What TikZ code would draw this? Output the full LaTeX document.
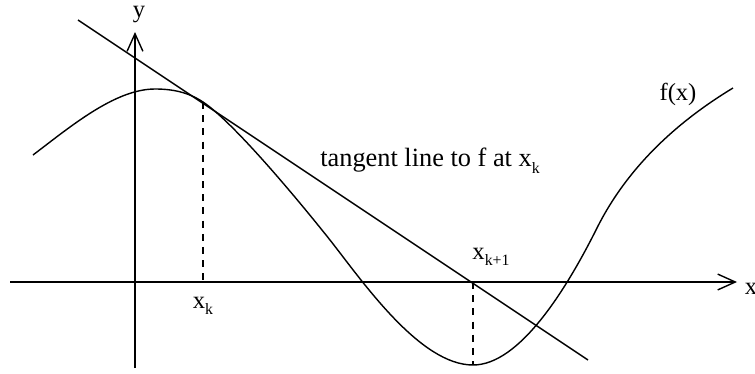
\documentclass[tikz,border=0pt]{standalone}
\usepackage{fontspec}
\setmainfont{Liberation Serif}
\usepackage{tikz}
\usetikzlibrary{arrows.meta}
\newcommand{\lowsub}[1]{\raisebox{-0.55ex}{\small #1}}

\begin{document}
\begin{tikzpicture}[x=0.02cm, y=-0.02cm, line width=0.8pt,
  axisline/.style={-{Straight Barb[length=10pt,width=9pt]}},
  dropline/.style={dash pattern=on 4pt off 3.5pt},
  lbl/.style={inner sep=0pt, font=\fontsize{14}{16}\selectfont}]

\useasboundingbox (0,0) rectangle (755,373);

% axes
\coordinate (xbeg) at (10,282);
\coordinate (xend) at (737,282);
\coordinate (ybeg) at (135,368);
\coordinate (yend) at (135,32);
\draw[axisline] (xbeg) -- (xend);
\draw[axisline] (ybeg) -- (yend);
\node[lbl] (xname) at (751,289) {x};
\node[lbl] (yname) at (139,15) {y};

% f(x)
\coordinate (ptk) at (203,102);
\coordinate (ptk1) at (473,282);
\coordinate (botk1) at (473,365);
\draw (33,155) .. controls (70,127) and (115,89) .. (155,89)
  .. controls (172,89) and (188,92) .. (ptk)
  .. controls (233,122) and (295,196) .. (330,240)
  .. controls (363,282) and (420,365) .. (botk1)
  .. controls (520,365) and (567,288) .. (597,228)
  .. controls (632,158) and (690,114) .. (733,88);
\node[lbl] (fname) at (678,94) {f(x)};

% tangent at x_k
\coordinate (tanA) at (78,20);
\coordinate (tanB) at (588,360);
\draw (tanA) -- (tanB);
\node[lbl, font=\fontsize{15}{17}\selectfont] (tanname) at (430,161)
  {tangent line to f at x\lowsub{k}};

% x_k and x_{k+1}
\coordinate (footk) at (203,282);
\draw[dropline] (ptk) -- (footk);
\draw[dropline] (ptk1) -- (botk1);
\node[lbl, anchor=north] (xk) at ([yshift=-8pt]footk) {x\lowsub{k}};
\node[lbl] (xk1) at (491,257) {x\lowsub{k+1}};

\end{tikzpicture}
\end{document}
